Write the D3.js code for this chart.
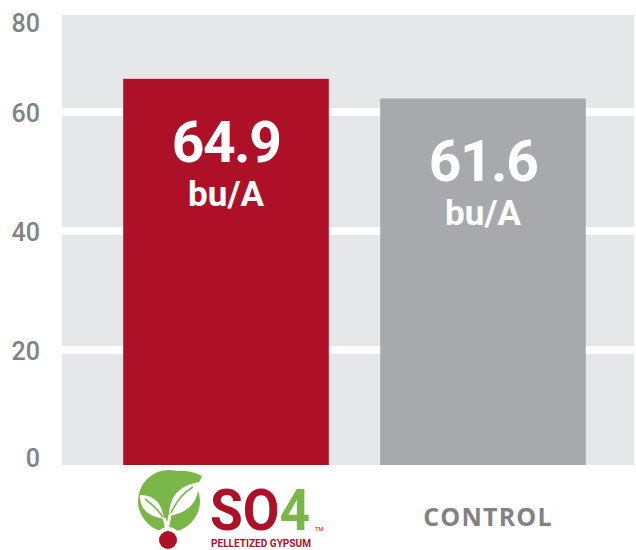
<!DOCTYPE html>
<html>
<head>
<meta charset="utf-8">
<script src="https://cdn.jsdelivr.net/npm/d3@7"></script>
<style>
    body { margin: 0; background: #fff; }
    svg { display: block; }
</style>
</head>
<body>
<svg id="chart" width="636" height="550"></svg>
<script>
// данные графика
const categories = ['SO4', 'CONTROL'];
const values = [64.9, 61.6];
const valueLabels = ['64.9', '61.6'];
const unitLabel = 'bu/A';
const yTicks = [0, 20, 40, 60, 80];
const gridTicks = [20, 40, 60];

const colors = ['#ae1028', '#a7a9ac'];
const panelColor = '#e6e7e8';
const textGray = '#808285';
const logoRed = '#ae1028';
const logoGreen = '#7ab648';

const svg = d3.select('#chart');

// область графика
const panel = { left: 62, right: 634, top: 15, bottom: 465 };

const x = d3.scaleBand()
    .domain(categories)
    .range([97.5, 611.5])
    .paddingInner(0.2)
    .paddingOuter(0.1);

// шкала чуть "не честная" как в оригинале - верх 80 уходит за панель
const y = d3.scaleLinear()
    .domain([0, 80])
    .range([panel.bottom, panel.bottom - 80 * 5.95]);

svg.append('rect')
    .attr('x', panel.left)
    .attr('y', panel.top)
    .attr('width', panel.right - panel.left)
    .attr('height', panel.bottom - panel.top)
    .attr('fill', panelColor);

// белые линии сетки
svg.selectAll('.grid')
    .data(gridTicks)
    .enter()
    .append('rect')
    .attr('class', 'grid')
    .attr('x', panel.left)
    .attr('y', d => y(d))
    .attr('width', panel.right - panel.left)
    .attr('height', 8)
    .attr('fill', '#fff');

// подписи оси Y
svg.selectAll('.ytick')
    .data(yTicks)
    .enter()
    .append('text')
    .attr('class', 'ytick')
    .attr('x', 40)
    .attr('y', d => Math.min(Math.max(y(d) + 14, 32), 467))
    .attr('text-anchor', 'end')
    .attr('font-family', 'Roboto, sans-serif')
    .attr('font-weight', 500)
    .attr('font-size', 25)
    .attr('fill', textGray)
    .text(d => d);

// столбцы
svg.selectAll('.bar')
    .data(values)
    .enter()
    .append('rect')
    .attr('class', 'bar')
    .attr('x', (d, i) => x(categories[i]))
    .attr('y', d => y(d))
    .attr('width', x.bandwidth())
    .attr('height', d => y(0) - y(d))
    .attr('fill', (d, i) => colors[i]);

// значения внутри столбцов
const labels = svg.selectAll('.vlabel')
    .data(values)
    .enter()
    .append('g')
    .attr('class', 'vlabel')
    .attr('transform', (d, i) => 'translate(' + (x(categories[i]) + x.bandwidth() / 2) + ',' + y(d) + ')')
    .attr('fill', '#fff')
    .attr('font-family', 'Roboto, sans-serif')
    .attr('font-weight', 700)
    .attr('text-anchor', 'middle');

labels.append('text')
    .attr('y', 83)
    .attr('font-size', 57)
    .attr('letter-spacing', -1.5)
    .text((d, i) => valueLabels[i]);

labels.append('text')
    .attr('y', 127)
    .attr('font-size', 35)
    .text(unitLabel);

// подпись CONTROL
svg.append('text')
    .attr('x', x(categories[1]) + x.bandwidth() / 2 + 5)
    .attr('y', 526)
    .attr('text-anchor', 'middle')
    .attr('font-family', '"Open Sans", sans-serif')
    .attr('font-weight', 700)
    .attr('font-size', 25)
    .attr('letter-spacing', 1.2)
    .attr('fill', textGray)
    .text(categories[1]);

// логотип SO4 под первым столбцом
const logo = svg.append('g')
    .attr('transform', 'translate(' + (x(categories[0]) + x.bandwidth() / 2) + ',0)');

const mark = logo.append('g').attr('transform', 'translate(-57,501)');
mark.append('circle').attr('r', 31).attr('fill', logoGreen);
mark.append('path')
    .attr('d', 'M6,-30 Q22,-31 33,-25 Q30,-17 26,-15 Z')
    .attr('fill', logoGreen);
// листья
mark.append('path')
    .attr('d', 'M-5,18 Q-30,14 -29,-6 Q-8,-6 -5,18 Z')
    .attr('fill', '#fff');
mark.append('path')
    .attr('d', 'M-6,16 Q-15,4 -24,-2')
    .attr('fill', 'none')
    .attr('stroke', logoGreen)
    .attr('stroke-width', 1.6);
mark.append('path')
    .attr('d', 'M0,15 Q0,-14 30,-19 Q30,10 0,15 Z')
    .attr('fill', '#fff');
mark.append('path')
    .attr('d', 'M2,12 Q10,-6 24,-14')
    .attr('fill', 'none')
    .attr('stroke', logoGreen)
    .attr('stroke-width', 1.6);
mark.append('path')
    .attr('d', 'M-2,32 Q-3,22 -5,17 M-2,32 Q-1,22 1,14')
    .attr('fill', 'none')
    .attr('stroke', '#fff')
    .attr('stroke-width', 3);
mark.append('circle').attr('cx', -1).attr('cy', 39).attr('r', 13).attr('fill', '#fff');
mark.append('circle').attr('cx', -1).attr('cy', 39).attr('r', 9).attr('fill', logoRed);

const word = logo.append('text')
    .attr('x', -16)
    .attr('y', 530)
    .attr('font-family', 'Roboto, sans-serif')
    .attr('font-weight', 700)
    .attr('font-size', 58)
    .attr('textLength', 100)
    .attr('lengthAdjust', 'spacingAndGlyphs');
word.append('tspan').attr('fill', logoRed).text('SO');
word.append('tspan').attr('fill', logoGreen).text('4');

logo.append('text')
    .attr('x', 89)
    .attr('y', 531)
    .attr('font-family', 'Roboto, sans-serif')
    .attr('font-size', 6)
    .attr('fill', logoRed)
    .text('TM');

logo.append('text')
    .attr('x', -15)
    .attr('y', 547)
    .attr('font-family', 'Roboto, sans-serif')
    .attr('font-weight', 700)
    .attr('font-size', 10.5)
    .attr('textLength', 100)
    .attr('lengthAdjust', 'spacingAndGlyphs')
    .attr('fill', logoRed)
    .text('PELLETIZED GYPSUM');
</script>
</body>
</html>
